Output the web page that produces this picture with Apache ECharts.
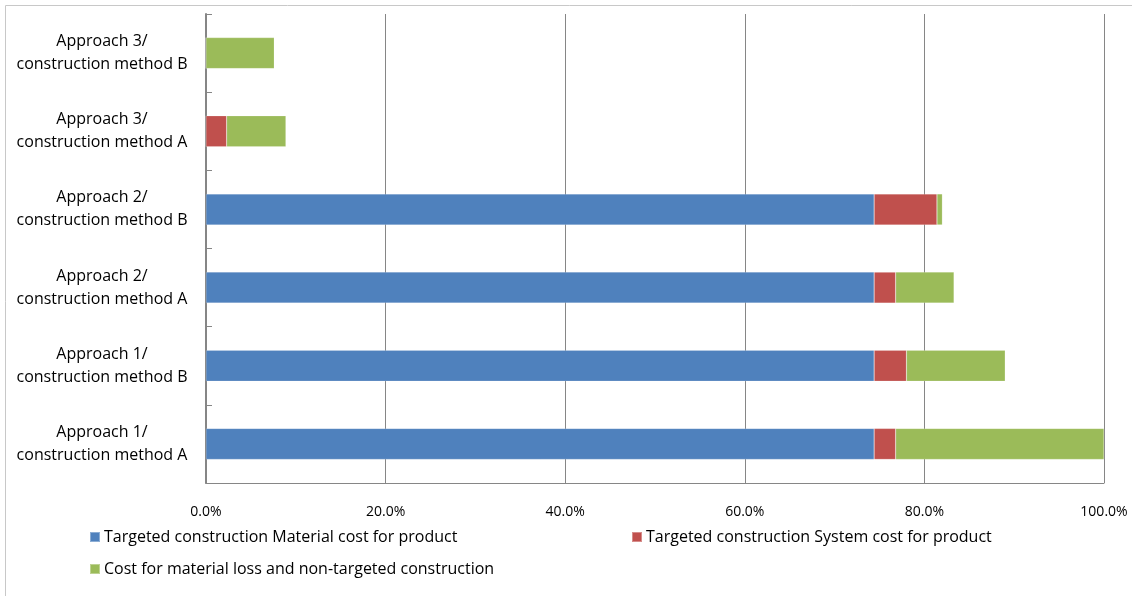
<!DOCTYPE html>
<html>
<head>
<meta charset="utf-8">
<script src="https://cdn.jsdelivr.net/npm/echarts@6/dist/echarts.min.js"></script>
<style>
  html, body { margin: 0; padding: 0; background: #fff; }
  #chart { width: 1132px; height: 596px; }
</style>
</head>
<body>
<div id="chart"></div>
<script>
// categories, bottom to top
var categories = [
  'Approach 1/\nconstruction method A',
  'Approach 1/\nconstruction method B',
  'Approach 2/\nconstruction method A',
  'Approach 2/\nconstruction method B',
  'Approach 3/\nconstruction method A',
  'Approach 3/\nconstruction method B'
];
var seriesNames = [
  'Targeted construction Material cost for product',
  'Targeted construction System cost for product',
  'Cost for material loss and non-targeted construction'
];
var materialCost = [74.4, 74.4, 74.4, 74.4, 0, 0];
var systemCost = [2.4, 3.6, 2.4, 7.0, 2.3, 0];
var lossCost = [23.2, 11.0, 6.5, 0.6, 6.6, 7.6];
var xTicks = [0, 20, 40, 60, 80, 100];

var colors = ['#4f81bd', '#c0504d', '#9bbb59'];
var font = '"Open Sans", "Liberation Sans", sans-serif';

var myChart = echarts.init(document.getElementById('chart'), null, {renderer: 'canvas'});

function makeSeries(name, data) {
  return {
    name: name,
    type: 'bar',
    stack: 'total',
    barWidth: 31,
    data: data,
    itemStyle: {borderColor: 'rgba(255,255,255,0.35)', borderWidth: 0.5},
    emphasis: {disabled: true}
  };
}

function legendAt(name, left, top) {
  return {
    data: [name],
    left: left,
    top: top,
    icon: 'rect',
    itemWidth: 10,
    itemHeight: 10,
    itemGap: 0,
    selectedMode: false,
    textStyle: {fontFamily: font, fontSize: 16, color: '#000', padding: [0, 0, 0, -1]}
  };
}

var option = {
  color: colors,
  animation: false,
  // 外框
  graphic: [{
    type: 'rect',
    shape: {x: 5.5, y: 5.5, width: 1200, height: 700},
    style: {fill: 'none', stroke: '#c8c8c8', lineWidth: 1},
    silent: true
  }],
  legend: [
    legendAt(seriesNames[0], 84, 524),
    legendAt(seriesNames[1], 626, 524),
    legendAt(seriesNames[2], 84, 556)
  ],
  grid: {left: 206, right: 28, top: 14, bottom: 113, containLabel: false},
  xAxis: {
    type: 'value',
    min: 0,
    max: 100,
    interval: 20,
    axisLine: {show: true, lineStyle: {color: '#868686', width: 1}},
    axisTick: {show: false},
    splitLine: {show: true, lineStyle: {color: '#868686', width: 1}},
    axisLabel: {
      margin: 22,
      fontFamily: font,
      fontSize: 14,
      color: '#000',
      formatter: function (v) { return v.toFixed(1) + '%'; }
    }
  },
  yAxis: {
    type: 'category',
    data: categories,
    axisLine: {show: true, lineStyle: {color: '#868686', width: 2}},
    axisTick: {show: true, inside: true, length: 6, lineStyle: {color: '#868686', width: 1}},
    axisLabel: {
      margin: 104,
      align: 'center',
      fontFamily: font,
      fontSize: 16,
      lineHeight: 23,
      padding: [7, 0, 0, 0],
      color: '#000'
    }
  },
  series: [
    makeSeries(seriesNames[0], materialCost),
    makeSeries(seriesNames[1], systemCost),
    makeSeries(seriesNames[2], lossCost)
  ]
};

myChart.setOption(option);
</script>
</body>
</html>
